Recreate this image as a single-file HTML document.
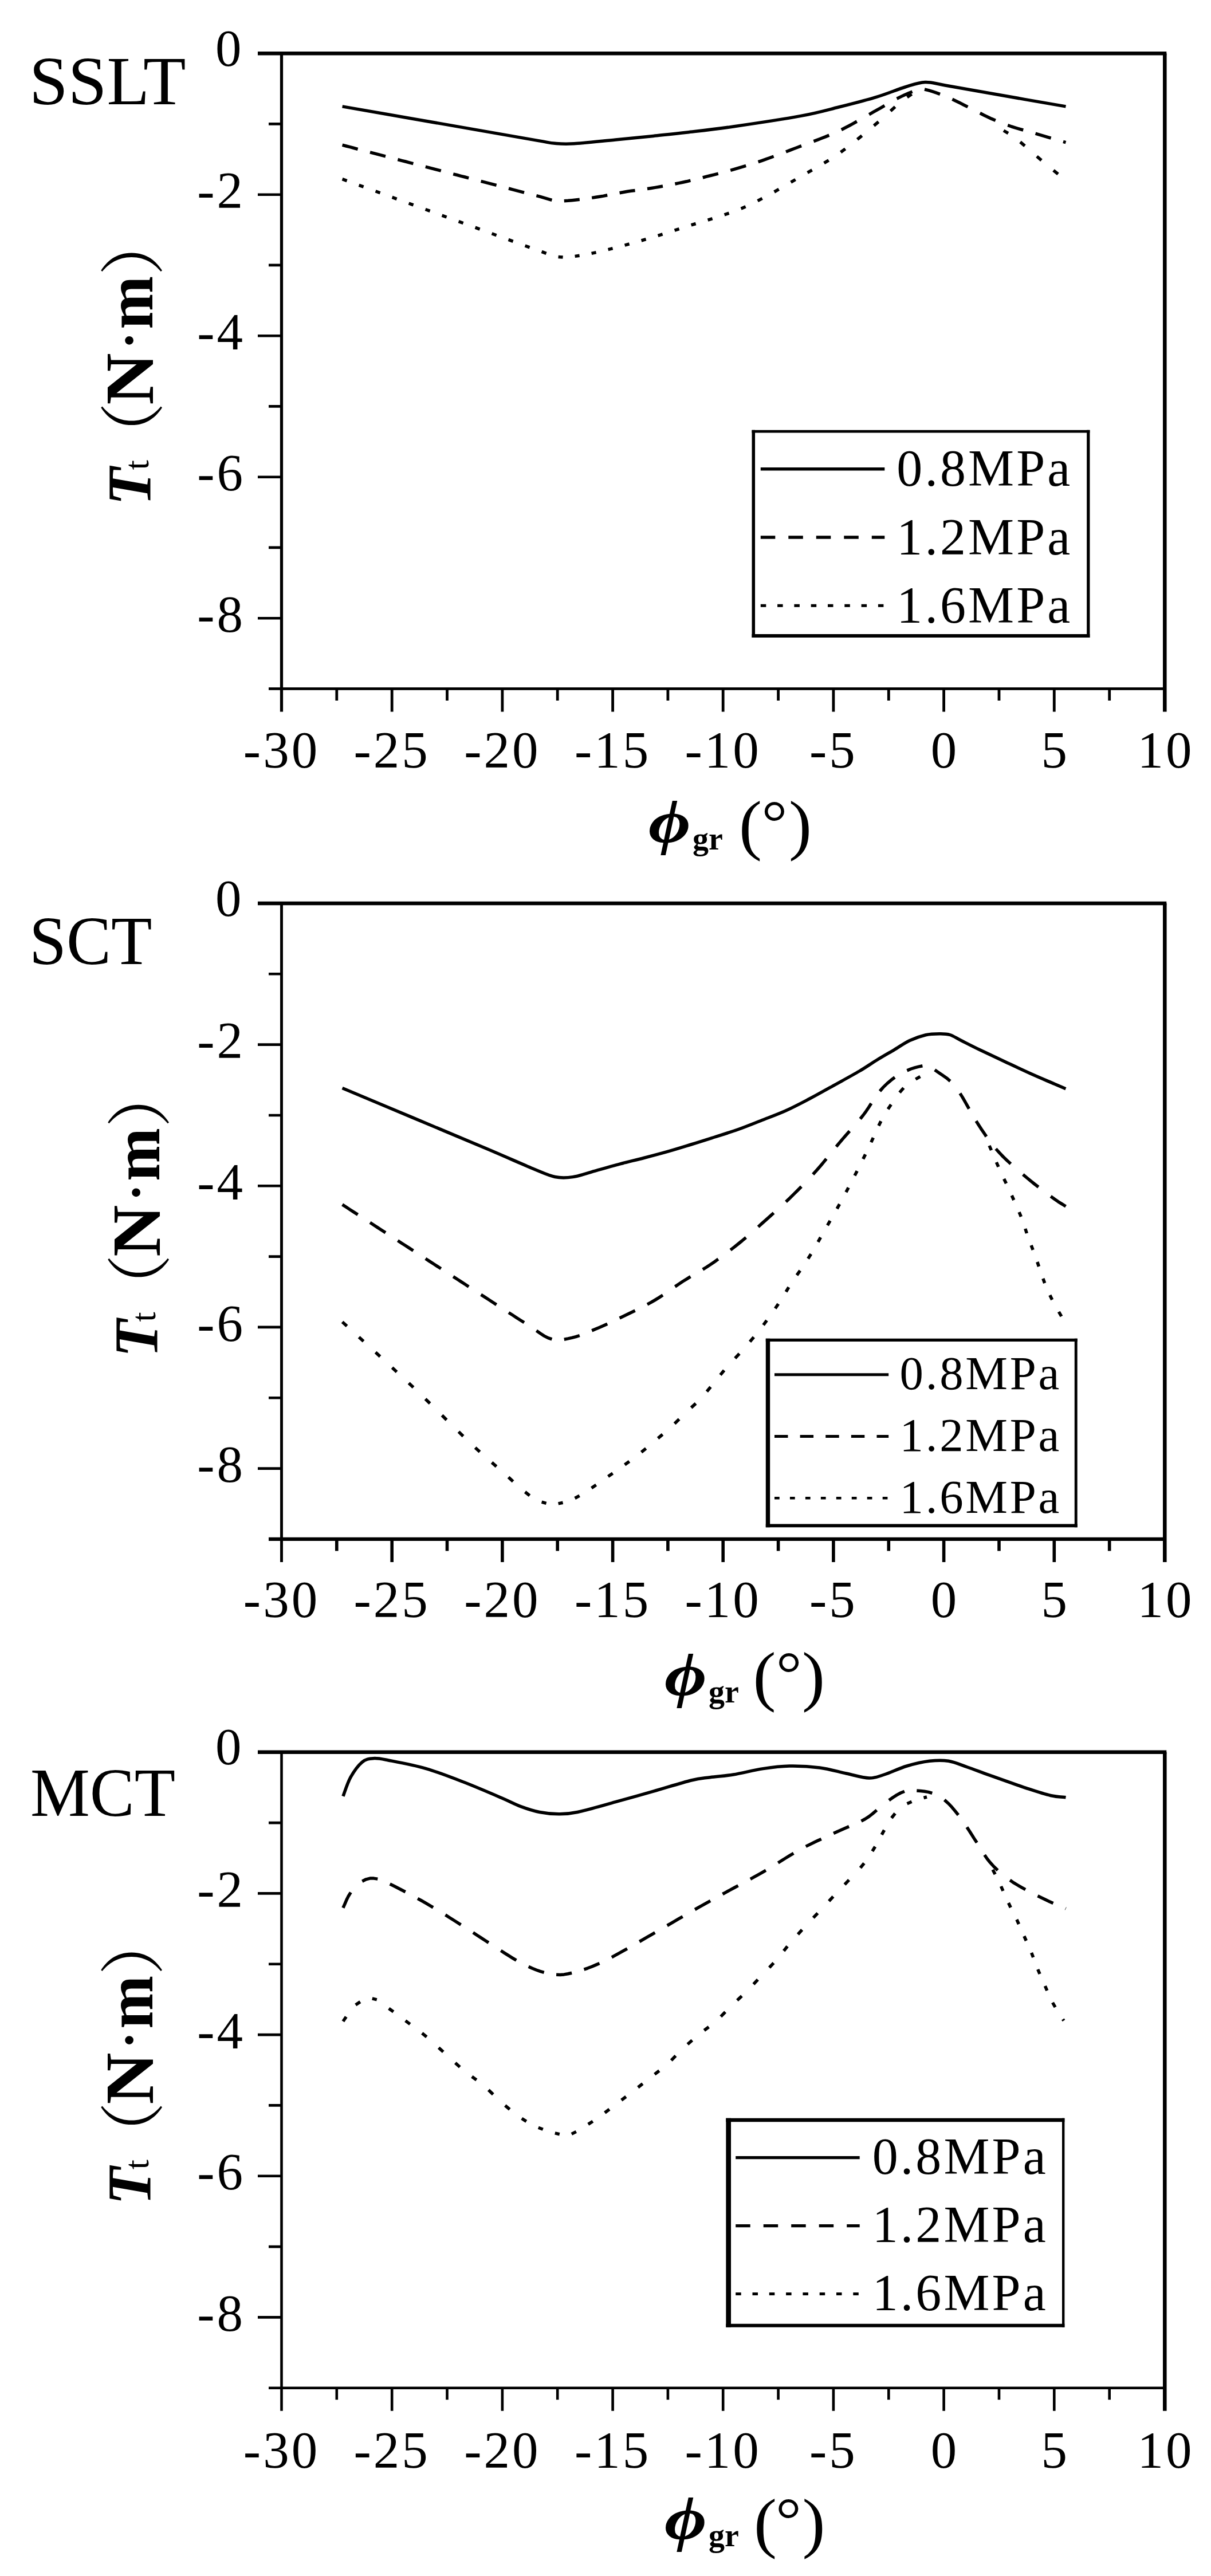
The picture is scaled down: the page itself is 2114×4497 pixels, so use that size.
<!DOCTYPE html>
<html lang="en"><head><meta charset="utf-8"><title>Tt vs phi_gr</title>
<style>html,body{margin:0;padding:0;background:#fff}svg{display:block}text{font-family:'Liberation Serif','Noto Serif CJK SC',serif;fill:#000}.tk{font-size:91px;letter-spacing:4px}.nm{font-size:120px}.lg{font-size:90px}.ax{stroke:#000;fill:none;stroke-linecap:butt}.cv{stroke:#000;fill:none;stroke-width:5.5;stroke-linejoin:round}</style></head><body>
<svg width="2114" height="4497" viewBox="0 0 2114 4497">
<rect width="2114" height="4497" fill="#fff"/>
<g>
<path class="ax" stroke-width="6.4" d="M450.0 93.2 H2036.3"/>
<path class="ax" stroke-width="6.6" d="M2033.3 93.2 V1242.4"/>
<path class="ax" stroke-width="5.2" d="M491.5 93.2 V1242.4"/>
<path class="ax" stroke-width="4.9" d="M469.0 1202.4 H2033.0"/>
<path class="ax" stroke-width="4.6" d="M469.0 216.4 H491.5M450.0 339.7 H491.5M469.0 462.9 H491.5M450.0 586.2 H491.5M469.0 709.4 H491.5M450.0 832.7 H491.5M469.0 955.9 H491.5M450.0 1079.2 H491.5"/>
<path class="ax" stroke-width="4.8" d="M587.8 1202.4 V1222.9M684.2 1202.4 V1242.4M780.5 1202.4 V1222.9M876.9 1202.4 V1242.4M973.2 1202.4 V1222.9M1069.6 1202.4 V1242.4M1165.9 1202.4 V1222.9M1262.2 1202.4 V1242.4M1358.6 1202.4 V1222.9M1454.9 1202.4 V1242.4M1551.3 1202.4 V1222.9M1647.6 1202.4 V1242.4M1744.0 1202.4 V1222.9M1840.3 1202.4 V1242.4M1936.7 1202.4 V1222.9"/>
<text class="tk" x="425.5" y="114.7" text-anchor="end">0</text>
<text class="tk" x="428.0" y="363.4" text-anchor="end">-2</text>
<text class="tk" x="428.0" y="609.9" text-anchor="end">-4</text>
<text class="tk" x="428.0" y="856.4" text-anchor="end">-6</text>
<text class="tk" x="428.0" y="1102.9" text-anchor="end">-8</text>
<text class="tk" x="491.5" y="1340.4" text-anchor="middle">-30</text>
<text class="tk" x="684.2" y="1340.4" text-anchor="middle">-25</text>
<text class="tk" x="876.9" y="1340.4" text-anchor="middle">-20</text>
<text class="tk" x="1069.6" y="1340.4" text-anchor="middle">-15</text>
<text class="tk" x="1262.2" y="1340.4" text-anchor="middle">-10</text>
<text class="tk" x="1454.9" y="1340.4" text-anchor="middle">-5</text>
<text class="tk" x="1649.6" y="1340.4" text-anchor="middle">0</text>
<text class="tk" x="1842.3" y="1340.4" text-anchor="middle">5</text>
<text class="tk" x="2035.0" y="1340.4" text-anchor="middle">10</text>
<text class="nm" transform="translate(51.0 181.5) scale(1.016 1)">SSLT</text>
<g transform="translate(262.0 874.2) rotate(-90)" style="font-size:108px;font-weight:bold">
<text x="-8.0" y="0" style="font-style:italic">T</text>
<text x="54.0" y="-3" style="font-size:62px;font-weight:normal">t</text>
<text x="58.0" y="10.5" style="font-size:114px;font-weight:normal;font-family:'Noto Serif CJK SC',serif">（</text>
<text transform="translate(167.5 4.9) scale(1.16 1.11)">N</text>
<text x="264.6" y="-5.8" style="font-size:91px">·</text>
<text transform="translate(299.5 4.2) scale(1.015 1.063)" style="font-size:110px">m</text>
<text x="393.0" y="10.5" style="font-size:114px;font-weight:normal;font-family:'Noto Serif CJK SC',serif">）</text>
</g>
<text transform="translate(1132.0 1469.9) scale(1.2 1)" style="font-size:106px;font-weight:bold;font-style:italic">ϕ</text>
<text x="1209.0" y="1482.9" style="font-size:56px;font-weight:bold">gr</text>
<text transform="translate(1290.0 1478.6) scale(1.04 1)" style="font-size:115.5px">(</text>
<text transform="translate(1329.4 1471.8) scale(1.04 1)" style="font-size:108px">°</text>
<text transform="translate(1377.0 1478.6) scale(1.04 1)" style="font-size:115.5px">)</text>
<path class="cv" d="M597.6 185.9 C618.0 189.4 677.9 199.9 720.0 207.2 C762.1 214.5 813.3 223.5 850.0 229.9 C886.7 236.3 920.2 242.2 940.0 245.6 C959.8 249.0 958.5 249.4 968.8 250.3 C979.1 251.2 984.4 251.9 1002.0 250.8 C1019.6 249.8 1051.4 246.2 1074.5 244.0 C1097.6 241.8 1119.6 239.6 1140.5 237.4 C1161.4 235.2 1176.8 233.7 1200.0 231.0 C1223.2 228.3 1247.0 225.8 1280.0 221.0 C1313.0 216.2 1367.3 208.1 1398.0 202.4 C1428.7 196.7 1442.0 192.5 1464.0 187.0 C1486.0 181.5 1510.7 175.2 1530.0 169.4 C1549.3 163.6 1565.9 156.3 1580.0 152.0 C1594.1 147.7 1603.1 144.0 1614.8 143.5 C1626.5 143.0 1631.1 145.8 1650.0 149.0 C1668.9 152.2 1692.9 156.7 1728.0 162.8 C1763.1 169.0 1838.4 182.1 1860.5 185.9"/>
<path class="cv" stroke-width="5" d="M597.6 253.2L604.4 255.0L611.1 256.7L617.9 258.5L624.6 260.3M646.0 265.9L652.8 267.6L659.5 269.4L666.2 271.2L673.0 272.9M694.4 278.5L701.1 280.3L707.9 282.0L714.6 283.8L721.4 285.6M742.8 291.2L749.5 292.9L756.3 294.7L763.0 296.4L769.8 298.2M791.2 303.8L798.0 305.5L804.7 307.3L811.5 309.0L818.2 310.8M839.6 316.4L846.4 318.1L853.1 319.9L859.9 321.7L866.6 323.4M888.0 329.0L894.8 330.8L901.5 332.6L908.2 334.3L915.0 336.1M936.4 341.7L943.2 343.4L949.9 345.3L956.7 347.3L963.4 349.3M984.8 350.7L991.5 350.3L998.3 349.7L1005.0 349.0L1011.8 348.3M1033.2 345.4L1040.0 344.3L1046.7 343.2L1053.5 342.1L1060.2 340.8M1081.6 336.7L1088.3 335.5L1095.1 334.3L1101.8 333.3L1108.6 332.4M1130.0 329.5L1136.8 328.5L1143.5 327.4L1150.2 326.2L1157.0 325.0M1178.4 321.0L1185.1 319.6L1191.9 318.2L1198.7 316.8L1205.4 315.2M1226.8 310.0L1233.5 308.2L1240.3 306.5L1247.0 304.8L1253.8 303.1M1275.2 297.4L1282.0 295.4L1288.7 293.4L1295.5 291.4L1302.2 289.4M1323.6 282.6L1330.3 280.3L1337.1 277.9L1343.8 275.5L1350.6 273.0M1372.0 265.0L1378.8 262.4L1385.5 259.8L1392.2 257.2L1399.0 254.6M1420.4 246.6L1427.2 244.1L1433.9 241.5L1440.7 238.9L1447.4 236.1M1468.8 226.5L1475.5 223.0L1482.3 219.5L1489.0 215.8L1495.8 212.0M1517.2 199.8L1524.0 195.9L1530.7 192.1L1537.5 188.3L1544.2 184.4M1565.6 172.2L1572.4 168.9L1579.1 165.7L1585.8 162.7L1592.6 160.0M1614.0 156.0L1620.8 157.6L1627.5 159.6L1634.2 161.9L1641.0 164.4M1662.4 173.3L1669.1 176.5L1675.9 179.8L1682.6 183.2L1689.4 186.6M1710.8 197.5L1717.5 201.0L1724.3 204.3L1731.0 207.4L1737.8 210.3M1759.2 218.7L1765.9 221.0L1772.7 223.1L1779.4 225.1L1786.2 227.0M1807.6 233.2L1814.3 235.2L1821.1 237.2L1827.8 239.1L1834.6 241.1M1856.0 247.3L1860.5 248.6"/>
<path class="cv" stroke-width="5.3" d="M597.6 312.7L605.6 315.6M626.6 323.3L634.6 326.2M655.6 333.8L663.6 336.8M684.6 344.4L692.6 347.3M713.6 355.0L721.6 357.9M742.6 365.5L750.6 368.4M771.6 376.1L779.6 379.0M800.6 386.6L808.6 389.5M829.6 397.2L837.6 400.1M858.6 407.7L866.6 410.7M887.6 418.4L895.6 421.3M916.6 429.0L924.6 431.9M945.6 439.4L953.6 442.4M974.6 448.4L982.6 449.1M1003.6 447.4L1011.6 446.3M1032.6 442.4L1040.6 440.6M1061.6 435.6L1069.6 433.6M1090.6 428.1L1098.6 425.9M1119.6 420.0L1127.6 417.7M1148.6 411.4L1156.6 408.9M1177.6 402.2L1185.6 399.6M1206.6 392.9L1214.6 390.5M1235.6 384.1L1243.6 381.6M1264.6 374.9L1272.6 372.2M1293.6 364.2L1301.6 360.8M1322.6 350.6L1330.6 346.4M1351.6 335.0L1359.6 330.4M1380.6 318.2L1388.6 313.5M1409.6 301.3L1417.6 296.8M1438.6 284.7L1446.6 279.8M1467.6 265.8L1475.6 259.9M1496.6 243.4L1504.6 236.8M1525.6 219.3L1533.6 212.6M1554.6 193.8L1562.6 186.5M1583.6 169.7L1591.6 164.3"/>
<path class="cv" stroke-width="5.3" d="M1752.0 228.0L1760.0 232.7M1781.0 247.9L1789.0 254.7M1810.0 273.0L1818.0 279.8M1839.0 297.3L1847.0 303.9"/>
<g transform="translate(1315.3 753.2) scale(1.0000)">
<rect x="0" y="0" width="584.5" height="356.8" fill="#fff"/>
<path class="ax" stroke-width="5.50" d="M0 -2.4 V359.7"/>
<path class="ax" stroke-width="5.30" d="M584.5 -2.4 V359.7"/>
<path class="ax" stroke-width="4.80" d="M-2.8 0 H587.1"/>
<path class="ax" stroke-width="5.80" d="M-2.8 356.8 H587.1"/>
<path class="ax" stroke-width="5.4" d="M12.5 65.6 H229"/>
<text class="lg" x="250.0" y="95.3" textLength="303.0" lengthAdjust="spacing">0.8MPa</text>
<path class="ax" stroke-width="5.4" stroke-dasharray="25.5 23" d="M12.5 184.8 H229"/>
<text class="lg" x="250.0" y="214.5" textLength="303.0" lengthAdjust="spacing">1.2MPa</text>
<path class="ax" stroke-width="5.0" stroke-dasharray="9.5 19.8" d="M12.5 304.0 H229"/>
<text class="lg" x="250.0" y="333.7" textLength="303.0" lengthAdjust="spacing">1.6MPa</text>
</g>
</g>
<g>
<path class="ax" stroke-width="6.4" d="M450.0 1577.0 H2036.3"/>
<path class="ax" stroke-width="6.6" d="M2033.3 1577.0 V2726.9"/>
<path class="ax" stroke-width="4.9" d="M491.5 1577.0 V2726.9"/>
<path class="ax" stroke-width="6.4" d="M469.0 2686.9 H2033.0"/>
<path class="ax" stroke-width="4.6" d="M469.0 1700.3 H491.5M450.0 1823.6 H491.5M469.0 1947.0 H491.5M450.0 2070.3 H491.5M469.0 2193.6 H491.5M450.0 2316.9 H491.5M469.0 2440.3 H491.5M450.0 2563.6 H491.5"/>
<path class="ax" stroke-width="5.6" d="M587.8 2686.9 V2707.4M684.2 2686.9 V2726.9M780.5 2686.9 V2707.4M876.9 2686.9 V2726.9M973.2 2686.9 V2707.4M1069.6 2686.9 V2726.9M1165.9 2686.9 V2707.4M1262.2 2686.9 V2726.9M1358.6 2686.9 V2707.4M1454.9 2686.9 V2726.9M1551.3 2686.9 V2707.4M1647.6 2686.9 V2726.9M1744.0 2686.9 V2707.4M1840.3 2686.9 V2726.9M1936.7 2686.9 V2707.4"/>
<text class="tk" x="425.5" y="1598.5" text-anchor="end">0</text>
<text class="tk" x="428.0" y="1847.3" text-anchor="end">-2</text>
<text class="tk" x="428.0" y="2094.0" text-anchor="end">-4</text>
<text class="tk" x="428.0" y="2340.6" text-anchor="end">-6</text>
<text class="tk" x="428.0" y="2587.3" text-anchor="end">-8</text>
<text class="tk" x="491.5" y="2823.1" text-anchor="middle">-30</text>
<text class="tk" x="684.2" y="2823.1" text-anchor="middle">-25</text>
<text class="tk" x="876.9" y="2823.1" text-anchor="middle">-20</text>
<text class="tk" x="1069.6" y="2823.1" text-anchor="middle">-15</text>
<text class="tk" x="1262.2" y="2823.1" text-anchor="middle">-10</text>
<text class="tk" x="1454.9" y="2823.1" text-anchor="middle">-5</text>
<text class="tk" x="1649.6" y="2823.1" text-anchor="middle">0</text>
<text class="tk" x="1842.3" y="2823.1" text-anchor="middle">5</text>
<text class="tk" x="2035.0" y="2823.1" text-anchor="middle">10</text>
<text class="nm" transform="translate(51.0 1682.5) scale(0.974 1)">SCT</text>
<g transform="translate(274.0 2361.5) rotate(-90)" style="font-size:108px;font-weight:bold">
<text x="-8.0" y="0" style="font-style:italic">T</text>
<text x="54.0" y="-3" style="font-size:62px;font-weight:normal">t</text>
<text x="58.0" y="10.5" style="font-size:114px;font-weight:normal;font-family:'Noto Serif CJK SC',serif">（</text>
<text transform="translate(167.5 4.9) scale(1.16 1.11)">N</text>
<text x="264.6" y="-5.8" style="font-size:91px">·</text>
<text transform="translate(299.5 4.2) scale(1.015 1.063)" style="font-size:110px">m</text>
<text x="393.0" y="10.5" style="font-size:114px;font-weight:normal;font-family:'Noto Serif CJK SC',serif">）</text>
</g>
<text transform="translate(1160.0 2959.4) scale(1.2 1)" style="font-size:106px;font-weight:bold;font-style:italic">ϕ</text>
<text x="1237.0" y="2972.4" style="font-size:56px;font-weight:bold">gr</text>
<text transform="translate(1314.4 2965.0) scale(1.04 1)" style="font-size:115.5px">(</text>
<text transform="translate(1354.7 2957.8) scale(1.04 1)" style="font-size:108px">°</text>
<text transform="translate(1400.0 2965.0) scale(1.04 1)" style="font-size:115.5px">)</text>
<path class="cv" d="M597.6 1899.5 C618.0 1908.1 677.9 1933.2 720.0 1950.9 C762.1 1968.6 815.0 1990.7 850.0 2005.5 C885.0 2020.3 910.2 2031.8 930.0 2040.0 C949.8 2048.2 957.1 2052.1 968.8 2054.5 C980.5 2056.9 987.9 2056.4 1000.0 2054.6 C1012.1 2052.8 1027.5 2047.2 1041.3 2043.4 C1055.1 2039.6 1068.8 2035.6 1082.6 2031.9 C1096.4 2028.2 1110.1 2025.1 1123.9 2021.5 C1137.7 2017.9 1151.5 2014.3 1165.2 2010.4 C1179.0 2006.5 1192.7 2002.2 1206.4 1998.0 C1220.2 1993.8 1233.9 1989.4 1247.7 1985.0 C1261.5 1980.6 1275.2 1976.4 1289.0 1971.5 C1302.8 1966.6 1316.5 1960.9 1330.3 1955.5 C1344.1 1950.1 1357.8 1945.2 1371.6 1939.0 C1385.4 1932.8 1399.1 1925.5 1412.9 1918.3 C1426.7 1911.1 1439.7 1903.6 1454.2 1895.6 C1468.7 1887.5 1487.4 1877.4 1500.0 1870.0 C1512.6 1862.6 1520.0 1857.1 1530.0 1851.0 C1540.0 1844.9 1550.3 1839.0 1560.0 1833.3 C1569.7 1827.5 1578.7 1820.9 1588.0 1816.5 C1597.3 1812.1 1607.3 1808.7 1616.0 1806.7 C1624.7 1804.7 1633.0 1804.7 1640.0 1804.7 C1647.0 1804.7 1652.0 1804.5 1658.3 1806.5 C1664.6 1808.5 1669.1 1812.0 1678.0 1816.5 C1686.9 1821.0 1698.5 1827.0 1711.6 1833.3 C1724.7 1839.6 1742.0 1847.6 1756.5 1854.4 C1771.0 1861.2 1784.6 1867.7 1798.6 1874.0 C1812.6 1880.3 1830.4 1887.8 1840.7 1892.3 C1851.0 1896.8 1857.1 1899.3 1860.4 1900.7"/>
<path class="cv" stroke-width="5" d="M597.6 2102.9L604.4 2107.3L611.1 2111.7L617.9 2116.1L624.6 2120.4M646.0 2134.3L652.8 2138.7L659.5 2143.1L666.2 2147.5L673.0 2151.9M694.4 2165.8L701.1 2170.2L707.9 2174.5L714.6 2178.9L721.4 2183.3M742.8 2197.2L749.5 2201.6L756.3 2206.0L763.0 2210.4L769.8 2214.7M791.2 2228.6L798.0 2233.0L804.7 2237.4L811.5 2241.8L818.2 2246.2M839.6 2260.1L846.4 2264.4L853.1 2268.8L859.9 2273.2L866.6 2277.6M888.0 2291.5L894.8 2295.8L901.5 2300.2L908.2 2304.5L915.0 2308.8M936.4 2323.1L943.2 2327.8L949.9 2332.1L956.7 2335.6L963.4 2337.9M984.8 2338.2L991.5 2336.9L998.3 2335.4L1005.1 2333.7L1011.8 2331.5M1033.2 2322.9L1040.0 2320.0L1046.7 2317.2L1053.5 2314.3L1060.2 2311.2M1081.6 2301.0L1088.4 2297.8L1095.1 2294.5L1101.8 2291.3L1108.6 2288.0M1130.0 2277.1L1136.8 2273.4L1143.5 2269.5L1150.2 2265.4L1157.0 2261.0M1178.4 2246.1L1185.2 2241.5L1191.9 2237.0L1198.7 2232.8L1205.4 2228.7M1226.8 2216.2L1233.5 2212.0L1240.3 2207.5L1247.0 2202.9L1253.8 2198.1M1275.2 2182.1L1282.0 2176.9L1288.7 2171.5L1295.5 2166.0L1302.2 2160.3M1323.6 2141.7L1330.3 2135.6L1337.1 2129.6L1343.8 2123.6L1350.6 2117.5M1372.0 2097.9L1378.8 2091.5L1385.5 2084.9L1392.2 2078.2L1398.9 2071.5M1419.2 2050.1L1425.3 2043.3L1431.2 2036.6L1437.0 2029.8L1442.5 2023.1M1459.8 2001.7L1465.4 1994.9L1471.1 1988.2L1477.1 1981.4L1483.1 1974.7M1501.7 1953.3L1507.1 1946.5L1512.0 1939.8L1516.6 1933.0L1520.9 1926.3M1535.9 1904.9L1541.8 1898.1L1548.5 1891.6L1555.3 1885.8L1562.0 1880.8M1583.4 1868.9L1590.2 1866.0L1596.9 1863.8L1603.7 1862.1L1610.4 1860.8M1631.8 1867.7L1638.6 1872.4L1645.3 1877.1L1652.1 1881.7L1658.8 1887.3M1675.9 1908.7L1680.1 1915.4L1684.0 1922.2L1687.8 1928.9L1691.6 1935.7M1704.0 1957.1L1708.3 1963.8L1712.7 1970.6L1717.3 1977.3L1721.9 1984.1M1738.4 2005.5L1744.4 2012.2L1750.9 2019.0L1757.6 2025.5L1764.4 2031.8M1785.8 2050.3L1792.5 2056.0L1799.3 2061.6L1806.0 2067.0L1812.8 2072.2M1834.2 2088.5L1840.8 2093.3L1847.3 2097.8L1853.9 2101.9L1860.5 2106.0"/>
<path class="cv" stroke-width="5.3" d="M597.6 2307.7L605.6 2315.0M626.6 2334.2L634.6 2341.6M655.6 2360.8L663.6 2368.1M684.6 2387.5L692.6 2394.9M713.6 2414.5L721.6 2422.0M742.6 2442.2L750.6 2450.0M771.6 2470.7L779.6 2478.7M800.6 2499.4L808.6 2507.2M829.6 2527.2L837.6 2534.6M858.6 2553.2L866.6 2560.1M887.6 2578.7L895.6 2586.2M916.6 2604.5L924.6 2610.8M945.6 2622.2L953.6 2624.3M974.6 2624.9L982.6 2623.3M1003.6 2615.5L1011.6 2611.1M1032.6 2597.7L1040.6 2592.2M1061.6 2577.4L1069.6 2571.9M1090.6 2557.0L1098.6 2551.2M1119.6 2535.1L1127.6 2528.6M1148.6 2510.9L1156.6 2504.1M1177.6 2485.2L1185.6 2477.5M1206.6 2457.4L1214.6 2450.1M1233.9 2429.2L1240.5 2421.2M1257.5 2400.2L1264.1 2392.2M1283.2 2371.2L1290.7 2363.2M1309.1 2342.2L1315.9 2334.2M1332.6 2313.2L1338.5 2305.2M1353.3 2284.2L1358.7 2276.2M1372.1 2255.2L1376.9 2247.2M1391.0 2226.2L1396.7 2218.2M1410.6 2197.2L1415.7 2189.2M1428.0 2168.2L1432.5 2160.2M1444.5 2139.2L1449.1 2131.2M1461.1 2110.2L1465.6 2102.2M1476.9 2081.2L1481.1 2073.2M1492.0 2052.2L1496.2 2044.2M1506.7 2023.2L1510.7 2015.2M1520.7 1994.2L1524.4 1986.2M1533.9 1965.2L1537.8 1957.2M1550.1 1936.2L1555.5 1928.2M1570.4 1907.2L1577.4 1899.2M1598.4 1884.0L1606.4 1879.3"/>
<path class="cv" stroke-width="5.3" d="M1727.0 2000.0L1730.5 2008.0M1739.4 2029.0L1742.9 2037.0M1752.6 2058.0L1756.5 2066.0M1766.2 2087.0L1769.8 2095.0M1779.1 2116.0L1782.4 2124.0M1789.8 2145.0L1792.4 2153.0M1800.1 2174.0L1803.2 2182.0M1810.8 2203.0L1813.5 2211.0M1820.8 2232.0L1823.7 2240.0M1832.8 2261.0L1836.7 2269.0M1848.3 2290.0L1852.9 2298.0"/>
<g transform="translate(1340.5 2339.4) scale(0.9200)">
<rect x="0" y="0" width="584.5" height="352.2" fill="#fff"/>
<path class="ax" stroke-width="8.04" d="M0 -2.8 V355.3"/>
<path class="ax" stroke-width="5.33" d="M584.5 -2.8 V355.3"/>
<path class="ax" stroke-width="5.65" d="M-4.0 0 H587.2"/>
<path class="ax" stroke-width="6.20" d="M-4.0 352.2 H587.2"/>
<path class="ax" stroke-width="5.4" d="M12.5 65.6 H229"/>
<text class="lg" x="250.0" y="93.2" textLength="303.0" lengthAdjust="spacing">0.8MPa</text>
<path class="ax" stroke-width="5.4" stroke-dasharray="25.5 23" d="M12.5 182.7 H229"/>
<text class="lg" x="250.0" y="210.3" textLength="303.0" lengthAdjust="spacing">1.2MPa</text>
<path class="ax" stroke-width="5.0" stroke-dasharray="9.5 19.8" d="M12.5 299.8 H229"/>
<text class="lg" x="250.0" y="327.4" textLength="303.0" lengthAdjust="spacing">1.6MPa</text>
</g>
</g>
<g>
<path class="ax" stroke-width="6.4" d="M450.0 3058.8 H2036.3"/>
<path class="ax" stroke-width="6.6" d="M2033.3 3058.8 V4208.7"/>
<path class="ax" stroke-width="4.6" d="M491.5 3058.8 V4208.7"/>
<path class="ax" stroke-width="4.6" d="M469.0 4168.7 H2033.0"/>
<path class="ax" stroke-width="4.6" d="M469.0 3182.1 H491.5M450.0 3305.4 H491.5M469.0 3428.8 H491.5M450.0 3552.1 H491.5M469.0 3675.4 H491.5M450.0 3798.7 H491.5M469.0 3922.1 H491.5M450.0 4045.4 H491.5"/>
<path class="ax" stroke-width="4.6" d="M587.8 4168.7 V4189.2M684.2 4168.7 V4208.7M780.5 4168.7 V4189.2M876.9 4168.7 V4208.7M973.2 4168.7 V4189.2M1069.6 4168.7 V4208.7M1165.9 4168.7 V4189.2M1262.2 4168.7 V4208.7M1358.6 4168.7 V4189.2M1454.9 4168.7 V4208.7M1551.3 4168.7 V4189.2M1647.6 4168.7 V4208.7M1744.0 4168.7 V4189.2M1840.3 4168.7 V4208.7M1936.7 4168.7 V4189.2"/>
<text class="tk" x="425.5" y="3080.3" text-anchor="end">0</text>
<text class="tk" x="428.0" y="3329.1" text-anchor="end">-2</text>
<text class="tk" x="428.0" y="3575.8" text-anchor="end">-4</text>
<text class="tk" x="428.0" y="3822.4" text-anchor="end">-6</text>
<text class="tk" x="428.0" y="4069.1" text-anchor="end">-8</text>
<text class="tk" x="491.5" y="4307.5" text-anchor="middle">-30</text>
<text class="tk" x="684.2" y="4307.5" text-anchor="middle">-25</text>
<text class="tk" x="876.9" y="4307.5" text-anchor="middle">-20</text>
<text class="tk" x="1069.6" y="4307.5" text-anchor="middle">-15</text>
<text class="tk" x="1262.2" y="4307.5" text-anchor="middle">-10</text>
<text class="tk" x="1454.9" y="4307.5" text-anchor="middle">-5</text>
<text class="tk" x="1649.6" y="4307.5" text-anchor="middle">0</text>
<text class="tk" x="1842.3" y="4307.5" text-anchor="middle">5</text>
<text class="tk" x="2035.0" y="4307.5" text-anchor="middle">10</text>
<text class="nm" transform="translate(53.0 3169.7) scale(0.973 1)">MCT</text>
<g transform="translate(262.0 3841.3) rotate(-90)" style="font-size:108px;font-weight:bold">
<text x="-8.0" y="0" style="font-style:italic">T</text>
<text x="54.0" y="-3" style="font-size:62px;font-weight:normal">t</text>
<text x="58.0" y="10.5" style="font-size:114px;font-weight:normal;font-family:'Noto Serif CJK SC',serif">（</text>
<text transform="translate(167.5 4.9) scale(1.16 1.11)">N</text>
<text x="264.6" y="-5.8" style="font-size:91px">·</text>
<text transform="translate(299.5 4.2) scale(1.015 1.063)" style="font-size:110px">m</text>
<text x="393.0" y="10.5" style="font-size:114px;font-weight:normal;font-family:'Noto Serif CJK SC',serif">）</text>
</g>
<text transform="translate(1160.0 4432.2) scale(1.2 1)" style="font-size:106px;font-weight:bold;font-style:italic">ϕ</text>
<text x="1237.0" y="4445.2" style="font-size:56px;font-weight:bold">gr</text>
<text transform="translate(1316.0 4442.6) scale(1.04 1)" style="font-size:115.5px">(</text>
<text transform="translate(1353.9 4434.7) scale(1.04 1)" style="font-size:108px">°</text>
<text transform="translate(1400.6 4442.6) scale(1.04 1)" style="font-size:115.5px">)</text>
<path class="cv" d="M598.9 3135.8 C601.1 3130.3 606.5 3112.6 612.0 3102.7 C617.5 3092.8 625.4 3081.8 632.0 3076.3 C638.6 3070.8 644.0 3070.2 651.7 3069.7 C659.4 3069.1 662.6 3070.0 678.0 3073.0 C693.4 3076.0 722.0 3081.2 744.0 3087.6 C766.0 3094.0 788.0 3102.7 810.0 3111.3 C832.0 3119.9 859.8 3131.9 876.3 3139.0 C892.8 3146.1 898.0 3149.5 909.0 3153.6 C920.0 3157.7 930.9 3161.3 942.0 3163.5 C953.1 3165.7 964.4 3166.8 975.4 3166.8 C986.4 3166.8 991.5 3167.0 1008.0 3163.5 C1024.5 3160.0 1052.4 3151.8 1074.5 3145.7 C1096.6 3139.6 1118.5 3133.5 1140.5 3127.2 C1162.5 3120.9 1190.1 3112.1 1206.6 3108.0 C1223.1 3103.9 1227.4 3104.4 1239.6 3102.7 C1251.8 3101.0 1264.6 3100.5 1280.0 3098.0 C1295.4 3095.5 1315.7 3090.1 1332.0 3087.6 C1348.3 3085.1 1361.5 3083.3 1378.0 3083.0 C1394.5 3082.7 1414.4 3083.8 1431.0 3086.0 C1447.6 3088.2 1463.1 3093.0 1477.4 3096.0 C1491.7 3099.0 1506.0 3103.7 1517.0 3104.0 C1528.0 3104.3 1532.5 3101.5 1543.5 3098.0 C1554.5 3094.5 1569.8 3086.9 1583.0 3083.0 C1596.2 3079.1 1610.6 3075.8 1622.7 3074.3 C1634.8 3072.9 1644.7 3072.5 1655.7 3074.3 C1666.7 3076.1 1676.7 3080.8 1688.8 3085.0 C1700.9 3089.2 1710.8 3093.1 1728.4 3099.4 C1746.0 3105.7 1776.9 3116.8 1794.5 3122.6 C1812.1 3128.4 1823.0 3132.0 1834.0 3134.5 C1845.0 3137.0 1856.1 3137.2 1860.5 3137.8"/>
<path class="cv" stroke-width="5" d="M598.9 3330.6L601.9 3323.8L604.8 3317.1L608.2 3310.3L612.3 3303.6M632.3 3284.2L639.0 3280.8L645.8 3279.1L652.5 3279.1L659.3 3280.1M680.7 3289.0L687.4 3292.3L694.2 3295.7L700.9 3299.2L707.7 3302.7M729.1 3314.3L735.8 3318.0L742.6 3321.9L749.3 3325.8L756.1 3329.8M777.5 3342.9L784.2 3347.2L791.0 3351.5L797.7 3355.8L804.5 3360.1M825.9 3373.8L832.6 3378.2L839.4 3382.6L846.1 3387.0L852.9 3391.4M874.3 3405.3L881.0 3409.6L887.8 3413.9L894.5 3418.1L901.3 3422.2M922.7 3433.2L929.4 3436.3L936.2 3439.0L942.9 3441.3L949.7 3443.3M971.1 3447.3L977.8 3447.5L984.6 3446.9L991.3 3445.8L998.1 3444.2M1019.5 3438.1L1026.2 3435.8L1033.0 3433.2L1039.7 3430.4L1046.5 3427.5M1067.9 3416.8L1074.6 3413.1L1081.4 3409.4L1088.1 3405.6L1094.9 3401.8M1116.3 3389.5L1123.0 3385.6L1129.8 3381.7L1136.5 3377.8L1143.3 3373.9M1164.7 3361.5L1171.4 3357.6L1178.2 3353.6L1184.9 3349.7L1191.7 3345.8M1213.1 3333.5L1219.8 3329.7L1226.6 3325.9L1233.3 3322.1L1240.1 3318.4M1261.5 3306.5L1268.2 3302.8L1275.0 3299.1L1281.7 3295.5L1288.5 3291.8M1309.9 3280.3L1316.6 3276.7L1323.4 3272.9L1330.1 3269.1L1336.9 3265.2M1358.3 3252.0L1365.0 3247.7L1371.8 3243.5L1378.5 3239.3L1385.3 3235.3M1406.7 3223.4L1413.4 3220.1L1420.2 3216.8L1426.9 3213.6L1433.7 3210.4M1455.1 3200.6L1461.8 3197.5L1468.6 3194.4L1475.3 3191.5L1482.1 3188.6M1503.5 3179.2L1510.2 3175.5L1517.0 3171.1L1523.7 3165.8L1530.5 3160.0M1551.9 3142.8L1558.6 3138.0L1565.4 3133.6L1572.1 3130.0L1578.9 3127.3M1600.3 3126.0L1607.0 3126.4L1613.8 3127.2L1620.5 3128.4L1627.3 3130.4M1648.7 3142.1L1655.4 3148.2L1661.8 3154.9L1667.5 3161.7L1672.9 3168.4M1687.9 3189.8L1692.3 3196.6L1696.6 3203.3L1700.9 3210.1L1705.3 3216.8M1718.7 3238.2L1723.3 3245.0L1728.7 3251.7L1734.9 3258.5L1741.7 3265.0M1763.1 3282.3L1769.8 3286.9L1776.6 3291.0L1783.3 3294.9L1790.1 3298.6M1811.5 3309.8L1818.2 3313.0L1825.0 3316.2L1831.7 3319.4L1838.5 3322.4M1859.9 3331.7L1860.5 3332.0"/>
<path class="cv" stroke-width="5.3" d="M598.9 3528.8L604.3 3520.8M620.8 3500.0L628.8 3494.6M649.8 3488.9L657.8 3490.9M678.8 3506.3L686.8 3512.0M707.8 3527.6L715.8 3533.6M736.8 3549.4L744.8 3555.9M765.8 3574.7L773.8 3582.1M794.8 3601.3L802.8 3608.5M823.8 3625.2L831.8 3631.0M852.8 3648.6L860.8 3656.3M881.8 3675.6L889.8 3682.4M910.8 3698.2L918.8 3703.4M939.8 3714.2L947.8 3717.2M968.8 3723.9L976.8 3725.7M997.8 3725.4L1005.8 3721.4M1026.8 3708.4L1034.8 3703.2M1055.8 3688.3L1063.8 3682.2M1084.8 3666.2L1092.8 3660.2M1113.8 3644.0L1121.8 3637.6M1142.8 3621.1L1150.8 3615.0M1171.8 3596.9L1179.5 3588.9M1200.3 3568.8L1208.3 3561.7M1229.3 3544.5L1237.3 3538.5M1258.3 3520.4L1266.1 3512.4M1286.9 3492.1L1294.9 3484.6M1315.4 3463.8L1322.9 3455.8M1343.0 3434.8L1350.5 3426.8M1368.2 3405.8L1374.6 3397.8M1392.9 3376.8L1400.1 3368.8M1419.8 3347.8L1427.4 3339.8M1447.1 3318.8L1454.5 3310.8M1474.5 3289.8L1482.1 3281.8M1501.9 3260.8L1508.5 3252.8M1522.8 3231.8L1527.7 3223.8M1539.2 3202.8L1543.6 3194.8M1556.3 3173.8L1562.6 3165.8M1583.5 3148.8L1591.5 3145.3M1612.5 3138.5L1618.0 3137.0"/>
<path class="cv" stroke-width="5.3" d="M1733.0 3264.0L1737.2 3272.0M1747.5 3293.0L1751.0 3301.0M1760.5 3322.0L1764.3 3330.0M1774.9 3351.0L1778.5 3359.0M1787.8 3380.0L1791.4 3388.0M1800.6 3409.0L1803.7 3417.0M1811.7 3438.0L1815.1 3446.0M1824.4 3467.0L1827.8 3475.0M1837.5 3496.0L1842.1 3504.0M1855.4 3525.0L1857.0 3527.5"/>
<g transform="translate(1271.7 3701.0) scale(1.0000)">
<rect x="0" y="0" width="584.5" height="358.8" fill="#fff"/>
<path class="ax" stroke-width="8.70" d="M0 -3.2 V361.8"/>
<path class="ax" stroke-width="4.40" d="M584.5 -3.2 V361.8"/>
<path class="ax" stroke-width="6.40" d="M-4.3 0 H586.7"/>
<path class="ax" stroke-width="6.00" d="M-4.3 358.8 H586.7"/>
<path class="ax" stroke-width="5.4" d="M12.5 65.6 H229"/>
<text class="lg" x="251.0" y="94.3" textLength="303.0" lengthAdjust="spacing">0.8MPa</text>
<path class="ax" stroke-width="5.4" stroke-dasharray="25.5 23" d="M12.5 184.6 H229"/>
<text class="lg" x="251.0" y="213.3" textLength="303.0" lengthAdjust="spacing">1.2MPa</text>
<path class="ax" stroke-width="5.0" stroke-dasharray="9.5 19.8" d="M12.5 303.6 H229"/>
<text class="lg" x="251.0" y="332.3" textLength="303.0" lengthAdjust="spacing">1.6MPa</text>
</g>
</g>
</svg></body></html>
